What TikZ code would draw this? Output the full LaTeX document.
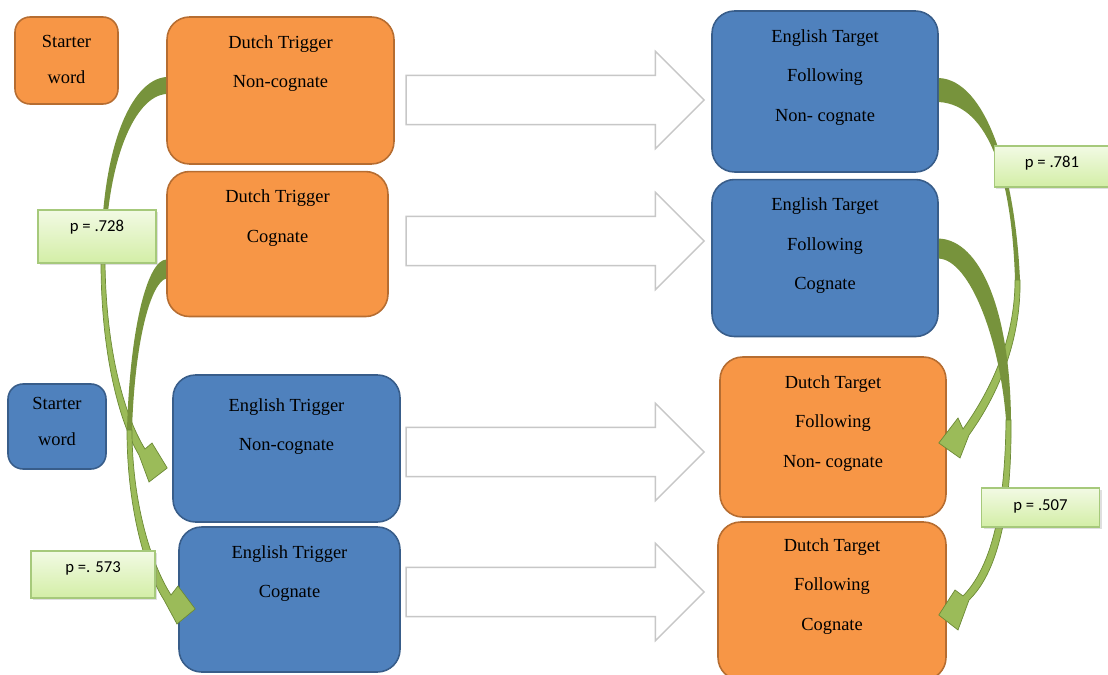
\documentclass[tikz,border=0pt]{standalone}
\usepackage{fontspec}
\setmainfont{Liberation Serif}
\newfontfamily\pfont{Carlito}
\usepackage{tikz}
\usetikzlibrary{shapes.arrows, positioning, calc, shadows}
\usepackage{xcolor}
\definecolor{orng}{HTML}{F79646}
\definecolor{orngline}{HTML}{B66D31}
\definecolor{blu}{HTML}{4F81BD}
\definecolor{bluline}{HTML}{385D8A}
\definecolor{ptop}{HTML}{F2FAE4}
\definecolor{pbot}{HTML}{D3EEA6}
\definecolor{pline}{HTML}{A6C97B}
\definecolor{gdark}{HTML}{77933C}
\definecolor{glight}{HTML}{9BBB59}
\definecolor{gline}{HTML}{6C8A36}

\begin{document}
\begin{tikzpicture}[x=0.02cm, y=-0.02cm,
  box/.style={draw, line width=0.9pt, rounded corners=0.45cm},
  nlbox/.style={box, fill=orng, draw=orngline},
  enbox/.style={box, fill=blu, draw=bluline},
  txt/.style={anchor=north, inner sep=0pt, yshift=-0.38cm, align=center,
    font=\fontsize{10.5pt}{22.5pt}\selectfont},
  stxt/.style={txt, font=\fontsize{10.5pt}{20.5pt}\selectfont},
  hollow/.style={single arrow, draw=black!22, line width=0.8pt, fill=white,
    inner xsep=0pt, inner ysep=0.48cm, single arrow head extend=0.48cm,
    single arrow tip angle=90, minimum height=5.96cm, anchor=tip},
  pval/.style={draw=pline, line width=0.6pt, top color=ptop, bottom color=pbot,
    inner sep=0pt, font=\pfont\fontsize{9.5pt}{11pt}\selectfont,
    drop shadow={shadow xshift=1.2pt, shadow yshift=-1.2pt, opacity=0.25}},
  dark/.style={fill=gdark},
  light/.style={fill=glight, draw=gline, line width=0.4pt}]
  \useasboundingbox (0,0) rectangle (1108,675);

  \node[nlbox, rounded corners=0.3cm, minimum width=2.06cm, minimum height=1.74cm,
    label={[stxt]north:Starter\\word}] (s1) at (66.5,60.5) {};
  \node[nlbox, minimum width=4.54cm, minimum height=2.94cm,
    label={[txt]north:Dutch Trigger\\Non-cognate}] (dtn) at (280.5,90.5) {};
  \node[nlbox, minimum width=4.42cm, minimum height=2.90cm,
    below=0.12cm of dtn.south west, anchor=north west,
    label={[txt]north:Dutch Trigger\\Cognate}] (dtc) {};
  \node[enbox, minimum width=4.52cm, minimum height=3.22cm,
    label={[txt]north:English Target\\Following\\Non- cognate}] (etfn) at (825,91.5) {};
  \node[enbox, minimum width=4.52cm, minimum height=3.14cm, below=0.12cm of etfn,
    label={[txt]north:English Target\\Following\\Cognate}] (etfc) {};

  \node[enbox, rounded corners=0.3cm, minimum width=1.96cm, minimum height=1.70cm,
    label={[stxt, yshift=0.1cm]north:Starter\\word}] (s2) at (57,426.5) {};
  \node[enbox, minimum width=4.54cm, minimum height=2.94cm,
    label={[txt, yshift=-0.1cm]north:English Trigger\\Non-cognate}] (etn) at (286.5,448.5) {};
  \node[enbox, minimum width=4.42cm, minimum height=2.90cm,
    label={[txt]north:English Trigger\\Cognate}] (etc) at (289.5,599.5) {};
  \node[nlbox, minimum width=4.52cm, minimum height=3.20cm,
    label={[txt]north:Dutch Target\\Following\\Non- cognate}] (dtfn) at (833,437) {};
  \node[nlbox, minimum width=4.56cm, minimum height=3.16cm,
    label={[txt, yshift=0.04cm]north:Dutch Target\\Following\\Cognate}] (dtfc) at (832,601) {};

  \node[hollow] (h1) at (705,100) {};
  \node[hollow] (h2) at (705,241) {};
  \node[hollow] (h3) at (705,452) {};
  \node[hollow] (h4) at (705,592) {};

  \fill[dark] ($(dtn.west)+(0,-13.5)$) .. controls (130,80) and (101,150) .. (101,262)
    -- (105,262) .. controls (106,160) and (135,96) .. ($(dtn.west)+(0,3.5)$) -- cycle;
  \filldraw[light] (101,262) .. controls (101,350) and (118,420) .. (139,455)
    -- (149,482) -- ($(etn.west)+(-5,19.5)$) -- (152,443) -- (145,449)
    .. controls (124,415) and (106,350) .. (105,262) -- cycle;

  \fill[dark] ($(dtc.west)+(0,15.5)$) .. controls (148,260) and (130,325) .. (127,430)
    -- (132,430) .. controls (135,335) and (152,282) .. ($(dtc.west)+(0,34.5)$) -- cycle;
  \filldraw[light] (127,430) .. controls (127,500) and (142,565) .. (164,600)
    -- (177,624) -- ($(etc.west)+(17,9.5)$) -- (178,586) -- (171,595)
    .. controls (150,562) and (132,500) .. (132,430) -- cycle;

  \fill[dark] ($(etfn.east)+(0,-13.5)$) .. controls (985,80) and (1015,170) .. (1020,280)
    -- (1015,280) .. controls (1012,180) and (990,105) .. ($(etfn.east)+(0,10.5)$) -- cycle;
  \filldraw[light] (1020,280) .. controls (1021,330) and (1005,385) .. (969,435)
    -- (960,458) -- ($(dtfn.east)+(-8,6)$) -- (958,418) -- (963,429)
    .. controls (998,380) and (1015,330) .. (1015,280) -- cycle;

  \fill[dark] ($(etfc.east)+(0,-19.5)$) .. controls (980,240) and (1010,310) .. (1011,420)
    -- (1006,420) .. controls (1000,340) and (970,260) .. ($(etfc.east)+(0,0.5)$) -- cycle;
  \filldraw[light] (1011,420) .. controls (1012,520) and (995,575) .. (969,600)
    -- (958,630) -- ($(dtfc.east)+(-8,14)$) -- (955,590) -- (963,596)
    .. controls (988,570) and (1005,520) .. (1006,420) -- cycle;

  \node[pval, minimum width=2.36cm, text height=0.44cm, text depth=0.62cm] (pa) at (97,236.5) {p = .728};
  \node[pval, minimum width=2.32cm, text height=0.44cm, text depth=0.38cm] (pc) at (1052,166.5) {p = .781};
  \node[pval, minimum width=2.48cm, text height=0.42cm, text depth=0.52cm] (pb) at (93,574.5) {p =. 573};
  \node[pval, minimum width=2.36cm, text height=0.44cm, text depth=0.34cm] (pd) at (1040.5,507.5) {p = .507};
\end{tikzpicture}
\end{document}
